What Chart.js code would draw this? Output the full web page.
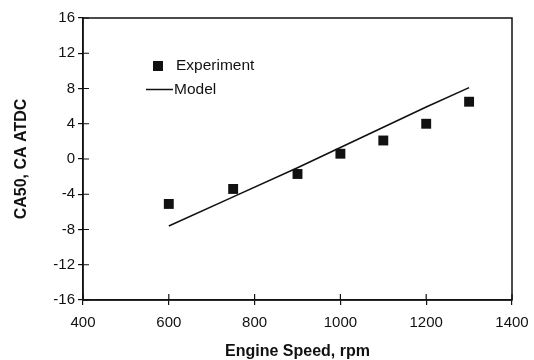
<!DOCTYPE html>
<html>
<head>
<meta charset="utf-8">
<script src="https://cdn.jsdelivr.net/npm/chart.js@4"></script>
<style>
  html, body { margin: 0; padding: 0; background: #fff; }
  #wrap { width: 534px; height: 360px; }
</style>
</head>
<body>
<div id="wrap"><canvas id="myChart"></canvas></div>
<script>
// engine speed (rpm) and CA50 (CA ATDC)
const speeds = [600, 750, 900, 1000, 1100, 1200, 1300];
const experiment = [-5.1, -3.4, -1.7, 0.6, 2.1, 4.0, 6.5];
const model = [-7.6, -4.3, -1.0, 1.3, 3.6, 5.9, 8.1];
const xTicks = [400, 600, 800, 1000, 1200, 1400];
const yTicks = [-16, -12, -8, -4, 0, 4, 8, 12, 16];

const ink = '#111';
const family = '"Liberation Sans", Arial, sans-serif';

// frame around the plot + tick marks on the inside of the axes + legend
const framePlugin = {
  id: 'frame',
  afterDraw(chart) {
    const { ctx, chartArea: a, scales } = chart;
    ctx.save();
    ctx.strokeStyle = ink;
    ctx.lineWidth = 1.5;
    ctx.strokeRect(a.left, a.top, a.right - a.left, a.bottom - a.top);

    ctx.lineWidth = 1.2;
    ctx.beginPath();
    xTicks.forEach(v => {
      const px = scales.x.getPixelForValue(v);
      ctx.moveTo(px, a.bottom);
      ctx.lineTo(px, a.bottom - 6);
    });
    yTicks.forEach(v => {
      const py = scales.y.getPixelForValue(v);
      ctx.moveTo(a.left, py);
      ctx.lineTo(a.left + 6, py);
    });
    ctx.stroke();

    // legend
    const lx = a.left + 75, ly = a.top + 48;
    ctx.fillStyle = ink;
    ctx.fillRect(lx - 5, ly - 5, 10, 10);
    ctx.lineWidth = 1.5;
    ctx.beginPath();
    ctx.moveTo(a.left + 63, ly + 23.5);
    ctx.lineTo(a.left + 90, ly + 23.5);
    ctx.stroke();
    ctx.font = '15.5px ' + family;
    ctx.textBaseline = 'middle';
    ctx.fillText('Experiment', a.left + 93, ly);
    ctx.fillText('Model', a.left + 91, ly + 23.5);
    ctx.restore();
  }
};

const ctx = document.getElementById('myChart');

new Chart(ctx, {
  type: 'scatter',
  data: {
    datasets: [{
      label: 'Experiment',
      data: speeds.map((s, i) => ({ x: s, y: experiment[i] })),
      pointStyle: 'rect',
      pointRadius: 7,
      backgroundColor: ink,
      borderColor: ink,
      borderWidth: 0,
      showLine: false
    }, {
      label: 'Model',
      data: speeds.map((s, i) => ({ x: s, y: model[i] })),
      showLine: true,
      pointRadius: 0,
      borderColor: ink,
      borderWidth: 1.6,
      tension: 0
    }]
  },
  options: {
    responsive: true,
    maintainAspectRatio: false,
    animation: false,
    layout: { padding: { top: 18, right: 22, left: 0, bottom: 0 } },
    plugins: {
      legend: { display: false },
      tooltip: { enabled: false }
    },
    scales: {
      x: {
        type: 'linear',
        min: 400,
        max: 1400,
        afterBuildTicks: s => { s.ticks = xTicks.map(v => ({ value: v })); },
        afterFit: s => { s.height = 60; s.paddingLeft = 0; s.paddingRight = 0; },
        grid: { drawOnChartArea: false, color: ink, tickLength: 5, lineWidth: 1.2 },
        border: { color: ink, width: 1.5 },
        ticks: {
          color: ink,
          font: { family: family, size: 15 },
          padding: 9,
          callback: v => String(v)
        },
        title: {
          display: true,
          text: 'Engine Speed, rpm',
          color: ink,
          font: { family: family, size: 16, weight: 'bold', lineHeight: 1 },
          padding: { top: 0, bottom: 0 }
        }
      },
      y: {
        min: -16,
        max: 16,
        afterBuildTicks: s => { s.ticks = yTicks.map(v => ({ value: v })); },
        afterFit: s => { s.width = 83; s.paddingTop = 0; s.paddingBottom = 0; },
        grid: { drawOnChartArea: false, color: ink, tickLength: 5, lineWidth: 1.2 },
        border: { color: ink, width: 1.5 },
        ticks: {
          color: ink,
          font: { family: family, size: 15 },
          padding: 3,
          callback: v => String(v)
        },
        title: {
          display: true,
          text: 'CA50, CA ATDC',
          color: ink,
          font: { family: family, size: 16, weight: 'bold', lineHeight: 1 },
          padding: { top: 14, bottom: 0 }
        }
      }
    }
  },
  plugins: [framePlugin]
});
</script>
</body>
</html>
